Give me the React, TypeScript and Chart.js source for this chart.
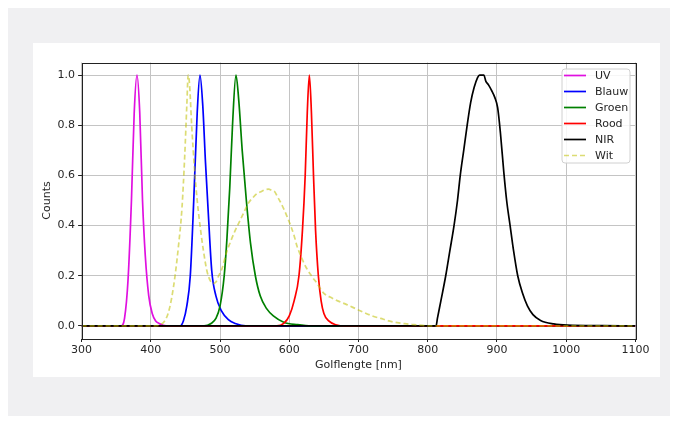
import React, { useEffect, useRef } from "react";
import { Chart, registerables } from "chart.js";

Chart.register(...registerables);

// ---- data (wavelength in nm, normalised counts) ----
const uvNm = [300, 357, 362, 367, 372, 376, 380, 384, 388, 392, 397, 402, 407, 412, 422, 1100];
const uvCounts = [0, 0, 0.03, 0.18, 0.5, 0.85, 1.0, 0.85, 0.5, 0.28, 0.12, 0.05, 0.02, 0.01, 0, 0];

const blauwNm = [300, 442, 447, 452, 457, 462, 467, 471, 475, 479, 483, 488, 494, 502, 512, 522, 537, 1100];
const blauwCounts = [0, 0, 0.02, 0.08, 0.2, 0.5, 0.85, 1.0, 0.88, 0.65, 0.45, 0.22, 0.12, 0.06, 0.025, 0.01, 0, 0];

const groenNm = [300, 477, 487, 494, 500, 506, 510, 514, 518, 523, 527, 532, 538, 544, 551, 558, 567, 577, 592, 612, 632, 1100];
const groenCounts = [0, 0, 0.01, 0.03, 0.08, 0.2, 0.35, 0.55, 0.8, 1.0, 0.9, 0.7, 0.5, 0.33, 0.2, 0.12, 0.07, 0.04, 0.015, 0.005, 0, 0];

const roodNm = [300, 582, 592, 600, 607, 614, 619, 623, 626, 629, 632, 635, 638, 642, 646, 650, 657, 667, 682, 1100];
const roodCounts = [0, 0, 0.01, 0.04, 0.1, 0.2, 0.38, 0.6, 0.85, 1.0, 0.85, 0.6, 0.38, 0.2, 0.1, 0.05, 0.02, 0.005, 0, 0];

const nirNm = [300, 812, 814, 819, 826, 832, 838, 843, 847, 852, 857, 862, 867, 872, 875, 881, 884, 888, 892, 897, 901, 905, 910, 914, 919, 924, 930, 937, 944, 952, 963, 982, 1002, 1052, 1100];
const nirCounts = [0, 0, 0.03, 0.1, 0.2, 0.3, 0.4, 0.5, 0.6, 0.7, 0.8, 0.89, 0.95, 0.99, 1.0, 1.0, 0.975, 0.96, 0.94, 0.91, 0.87, 0.77, 0.61, 0.5, 0.4, 0.3, 0.2, 0.13, 0.08, 0.045, 0.022, 0.008, 0.003, 0.001, 0];

const witNm = [300, 407, 414, 420, 425, 430, 435, 440, 445, 449, 452, 454, 456, 459, 463, 467, 472, 476, 481, 486, 490, 494, 498, 503, 509, 515, 521, 527, 534, 541, 547, 553, 559, 565, 570, 575, 579, 582, 587, 592, 597, 602, 607, 611, 618, 625, 632, 640, 650, 659, 670, 683, 695, 707, 720, 732, 744, 756, 767, 777, 792, 802, 1100];
const witCounts = [0, 0, 0.005, 0.02, 0.05, 0.11, 0.2, 0.32, 0.47, 0.68, 0.88, 1.0, 0.96, 0.8, 0.63, 0.5, 0.38, 0.3, 0.22, 0.18, 0.17, 0.175, 0.2, 0.23, 0.29, 0.335, 0.375, 0.41, 0.45, 0.49, 0.51, 0.527, 0.535, 0.543, 0.545, 0.54, 0.535, 0.52, 0.495, 0.467, 0.435, 0.4, 0.36, 0.32, 0.27, 0.23, 0.2, 0.17, 0.13, 0.115, 0.1, 0.085, 0.07, 0.055, 0.04, 0.03, 0.02, 0.013, 0.009, 0.006, 0.002, 0, 0];

const seriesLabels = ["UV", "Blauw", "Groen", "Rood", "NIR", "Wit"];
const xTicks = [300, 400, 500, 600, 700, 800, 900, 1000, 1100];
const yTicks = [0, 0.2, 0.4, 0.6, 0.8, 1.0];

const COLORS = ["#e010e0", "#0000ff", "#008000", "#ff0000", "#000000", "rgba(191,191,0,0.55)"];
const FONT = "'DejaVu Sans', sans-serif";
const TEXT = "#262626";

const zip = (xs: number[], ys: number[]) => xs.map((x, i) => ({ x, y: ys[i] }));

const framePlugin = {
  id: "frameAndLegend",
  afterDraw(chart: any) {
    const { ctx, chartArea: a } = chart;
    ctx.save();
    ctx.strokeStyle = "#222";
    ctx.lineWidth = 1;
    ctx.strokeRect(Math.round(a.left) + 0.5, Math.round(a.top) + 0.5, Math.round(a.right - a.left), Math.round(a.bottom - a.top));
    const bx = 529, by = 26, bw = 68, bh = 94, r = 3;
    ctx.beginPath();
    ctx.moveTo(bx + r, by);
    ctx.lineTo(bx + bw - r, by);
    ctx.quadraticCurveTo(bx + bw, by, bx + bw, by + r);
    ctx.lineTo(bx + bw, by + bh - r);
    ctx.quadraticCurveTo(bx + bw, by + bh, bx + bw - r, by + bh);
    ctx.lineTo(bx + r, by + bh);
    ctx.quadraticCurveTo(bx, by + bh, bx, by + bh - r);
    ctx.lineTo(bx, by + r);
    ctx.quadraticCurveTo(bx, by, bx + r, by);
    ctx.closePath();
    ctx.fillStyle = "rgba(255,255,255,0.85)";
    ctx.fill();
    ctx.strokeStyle = "#d0d0d0";
    ctx.stroke();
    ctx.font = `11px ${FONT}`;
    ctx.textBaseline = "middle";
    ctx.textAlign = "left";
    seriesLabels.forEach((lab, i) => {
      const y = 32.5 + i * 16;
      ctx.beginPath();
      ctx.strokeStyle = COLORS[i];
      ctx.lineWidth = 1.7;
      ctx.setLineDash(i === 5 ? [5, 3] : []);
      ctx.moveTo(531, y);
      ctx.lineTo(553, y);
      ctx.stroke();
      ctx.setLineDash([]);
      ctx.fillStyle = TEXT;
      ctx.fillText(lab, 562, y + 0.5);
    });
    ctx.restore();
  },
};

function SpectrumChart() {
  const ref = useRef<HTMLCanvasElement | null>(null);
  useEffect(() => {
    if (!ref.current) return;
    const all = [
      zip(uvNm, uvCounts),
      zip(blauwNm, blauwCounts),
      zip(groenNm, groenCounts),
      zip(roodNm, roodCounts),
      zip(nirNm, nirCounts),
      zip(witNm, witCounts),
    ];
    const chart = new Chart(ref.current, {
      type: "line",
      data: {
        datasets: all.map((d, i) => ({
          label: seriesLabels[i],
          data: d,
          borderColor: COLORS[i],
          backgroundColor: COLORS[i],
          borderWidth: 1.7,
          borderDash: i === 5 ? [5, 3] : [],
          pointRadius: 0,
          cubicInterpolationMode: "monotone",
          fill: false,
          order: 5 - i,
        })),
      },
      options: {
        responsive: false,
        animation: false,
        layout: { padding: { left: 0, top: 19.5, right: 24.6, bottom: 0 } },
        plugins: { legend: { display: false }, tooltip: { enabled: false } },
        scales: {
          x: {
            type: "linear",
            min: 300,
            max: 1100,
            afterFit: (s: any) => { s.height = 38.5; },
            afterBuildTicks: (s: any) => { s.ticks = xTicks.map((v) => ({ value: v })); },
            grid: { color: "#c4c4c4", lineWidth: 1, tickColor: "#222", tickLength: 3.5, drawTicks: true },
            border: { display: false },
            ticks: { color: TEXT, font: { family: FONT, size: 11 }, padding: 2, maxRotation: 0, callback: (v: any) => String(v) },
            title: { display: true, text: "Golflengte [nm]", color: TEXT, font: { family: FONT, size: 11 }, padding: { top: 0, bottom: 5.7 } },
          },
          y: {
            type: "linear",
            min: -0.05,
            max: 1.05,
            afterFit: (s: any) => { s.width = 48.6; },
            afterBuildTicks: (s: any) => { s.ticks = yTicks.map((v) => ({ value: v })); },
            grid: { color: "#c4c4c4", lineWidth: 1, tickColor: "#222", tickLength: 3.5, drawTicks: true },
            border: { display: false },
            ticks: { color: TEXT, font: { family: FONT, size: 11 }, padding: 3, callback: (v: any) => Number(v).toFixed(1) },
            title: { display: true, text: "Counts", color: TEXT, font: { family: FONT, size: 11 }, padding: { top: 7.9, bottom: 0 } },
          },
        },
      },
      plugins: [framePlugin],
    } as any);
    return () => chart.destroy();
  }, []);
  return <canvas ref={ref} width={627} height={334} style={{ display: "block" }} />;
}

export default function App() {
  return (
    <div style={{ position: "relative", width: 662, height: 408, background: "#f0f0f2" }}>
      <div style={{ position: "absolute", left: 25, top: 35, width: 627, height: 334, background: "#ffffff" }}>
        <SpectrumChart />
      </div>
    </div>
  );
}
